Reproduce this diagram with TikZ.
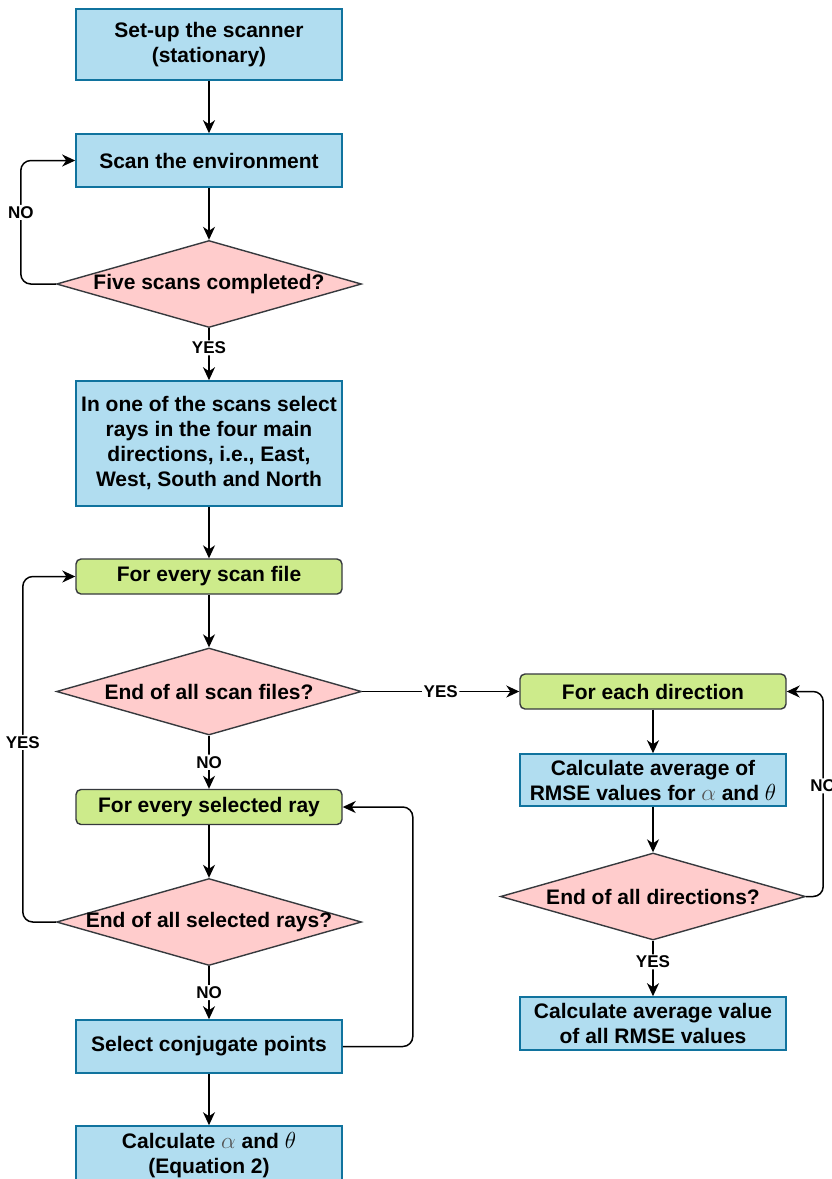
\documentclass[tikz,border=0pt]{standalone}
\usepackage{fontspec}
\setmainfont{Liberation Sans}
\usetikzlibrary{shapes.geometric,arrows.meta}

\definecolor{procfill}{HTML}{B1DDF0}
\definecolor{procline}{HTML}{10739E}
\definecolor{loopfill}{HTML}{CDEB8B}
\definecolor{loopline}{HTML}{36393D}
\definecolor{decfill}{HTML}{FFCCCC}
\definecolor{decline}{HTML}{36393D}
\definecolor{greek}{HTML}{555555}

\tikzset{
  boxtext/.style={font=\bfseries\fontsize{21}{25}\selectfont, align=center, text=black},
  procbox/.style={boxtext, rectangle, draw=procline, fill=procfill, line width=1.6pt,
    minimum width=266, inner sep=0pt},
  loopbox/.style={boxtext, rectangle, rounded corners=5pt, draw=loopline, fill=loopfill,
    line width=1.4pt, minimum width=266, minimum height=35, inner sep=0pt},
  decision/.style={boxtext, diamond, draw=decline, fill=decfill, line width=1.4pt,
    minimum width=305, minimum height=87, inner sep=0pt},
  flow/.style={draw=black, line width=1.5pt, rounded corners=10pt,
    -{Stealth[length=13pt,width=12pt,inset=4pt]}},
  lbl/.style={fill=white, inner sep=1.5pt, text=black,
    font=\bfseries\fontsize{17}{19}\selectfont}
}

\newcommand{\dectext}[1]{\makebox[0pt]{#1}}
\newcommand{\bigsym}[1]{\scalebox{1.12}{$#1$}}

\begin{document}
\begin{tikzpicture}[x=1pt, y=-1pt]
  \useasboundingbox (0,0) rectangle (831,1179);

  % left column
  \node[procbox, minimum height=71] (setup) at (209,44.5) {Set-up the scanner\\(stationary)};
  \node[procbox, minimum height=53] (scan) at (209,160.5) {Scan the environment};
  \node[decision] (five) at (209,284) {\dectext{Five scans completed?}};
  \node[procbox, minimum height=125] (select) at (209,443.5)
    {In one of the scans select\\rays in the four main\\directions, i.e., East,\\West, South and North};
  \node[loopbox] (everyfile) at (209,576.5) {For every scan file};
  \node[decision] (endfiles) at (209,691.5) {\dectext{End of all scan files?}};
  \node[loopbox] (everyray) at (209,807) {For every selected ray};
  \node[decision] (endrays) at (209,922) {\dectext{End of all selected rays?}};
  \node[procbox, minimum height=53] (conj) at (209,1046.5) {Select conjugate points};
  \node[procbox, minimum height=58] (calc) at (209,1155)
    {Calculate \textcolor{greek}{\bigsym{\alpha}} and \bigsym{\theta}\\(Equation 2)};

  % right column
  \node[loopbox] (eachdir) at (653,691.5) {For each direction};
  \node[procbox, minimum height=52] (avg) at (653,780)
    {Calculate average of\\RMSE values for \textcolor{greek}{\bigsym{\alpha}} and \bigsym{\theta}};
  \node[decision] (enddirs) at (653,896.5) {\dectext{End of all directions?}};
  \node[procbox, minimum height=53] (final) at (653,1023.5)
    {Calculate average value\\of all RMSE values};

  % connectors
  \draw[flow] (setup) -- (scan);
  \draw[flow] (scan) -- (five);
  \draw[flow] (five) -- node[lbl, pos=0.38] (yesA) {YES} (select);
  \draw[flow] (five.west) -- ++(-35,0) |- node[lbl, pos=0.29] (noA) {NO} (scan.west);
  \draw[flow] (select) -- (everyfile);
  \draw[flow] (everyfile) -- (endfiles);
  \draw[flow] (endfiles) -- node[lbl] (noB) {NO} (everyray);
  \draw[flow] (endfiles.east) -- node[lbl] (yesB) {YES} (eachdir.west);
  \draw[flow] (everyray) -- (endrays);
  \draw[flow] (endrays) -- node[lbl] (noC) {NO} (conj);
  \draw[flow] (endrays.west) -- ++(-33,0) |- node[lbl, pos=0.26] (yesC) {YES} (everyfile.west);
  \draw[flow] (conj.east) -- ++(70,0) |- (everyray.east);
  \draw[flow] (conj) -- (calc);

  \draw[flow] (eachdir) -- (avg);
  \draw[flow] (avg) -- (enddirs);
  \draw[flow] (enddirs) -- node[lbl, pos=0.38] (yesD) {YES} (final);
  \draw[flow] (enddirs.east) -- ++(17,0) |- node[lbl, pos=0.27] (noD) {NO} (eachdir.east);
\end{tikzpicture}
\end{document}
